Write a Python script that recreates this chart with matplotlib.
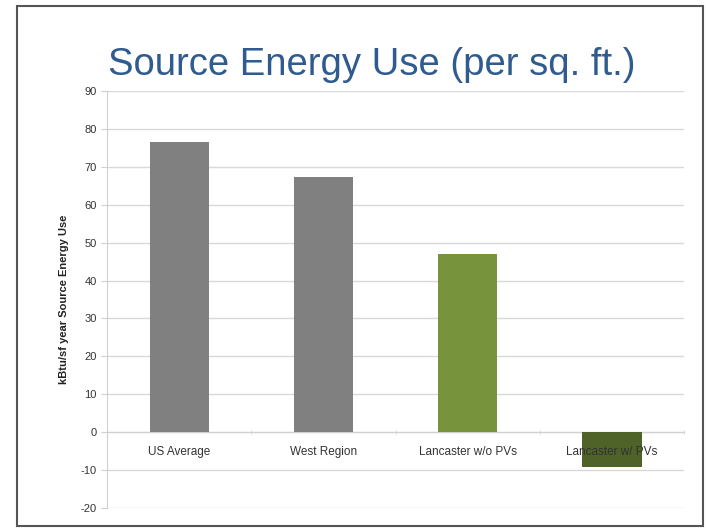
import numpy as np
import matplotlib.pyplot as plt
from matplotlib.patches import Rectangle
import matplotlib.transforms as mtransforms

plt.rcParams['font.family'] = ['Liberation Sans', 'DejaVu Sans']
plt.rcParams['axes.unicode_minus'] = False

categories = ['US Average', 'West Region', 'Lancaster w/o PVs', 'Lancaster w/ PVs']
values = [76.5, 67.3, 47.1, -9.3]
colors = ['#808080', '#808080', '#77933c', '#4f6228']
y_ticks = list(range(-20, 100, 10))

fig = plt.figure(figsize=(7.06, 5.28), dpi=100)
ax = fig.add_axes([0.1516, 0.0379, 0.8174, 0.7898])

x = np.arange(len(categories))
ax.bar(x, values, width=0.41, color=colors, zorder=3)

ax.set_xlim(-0.5, len(categories) - 0.5)
ax.set_ylim(-20, 90)
ax.set_yticks(y_ticks)
ax.yaxis.grid(True, color='#d9d9d9', linewidth=1.0, zorder=0)
ax.set_axisbelow(True)

# category axis crosses at zero, like Excel
ax.spines['bottom'].set_position(('data', 0))
ax.spines['bottom'].set_color('#d0d0d0')
ax.spines['left'].set_color('#d0d0d0')
ax.spines['top'].set_visible(False)
ax.spines['right'].set_visible(False)
ax.set_xticks(x)
ax.set_xticklabels([])
ax.tick_params(axis='x', length=0)
ax.set_xticks(np.arange(-0.5, len(categories), 1), minor=True)
ax.tick_params(axis='x', which='minor', length=3, color='#d0d0d0', direction='inout')
ax.tick_params(axis='y', labelsize=8, colors='#333333', length=4, color='#d0d0d0')

# category labels sit just under the zero line, drawn over the bars
offset = mtransforms.offset_copy(ax.transData, fig=fig, x=0, y=-20, units='dots')
for xi, name in zip(x, categories):
    ax.text(xi, 0, name, transform=offset, ha='center', va='center',
            fontsize=8.5, color='#333333', zorder=5)

ax.set_ylabel('kBtu/sf year Source Energy Use', fontsize=8, fontweight='bold',
              color='#222222', labelpad=8)

fig.text(0.526, 0.858, 'Source Energy Use (per sq. ft.)', fontsize=27.5,
         color='#2f5b8f', ha='center', va='baseline')

# frame around the slide
fig.patches.append(Rectangle((0.024, 0.004), 0.972, 0.985, transform=fig.transFigure,
                             fill=False, edgecolor='#555555', linewidth=1.5))

fig.savefig('out.png', dpi=100)
